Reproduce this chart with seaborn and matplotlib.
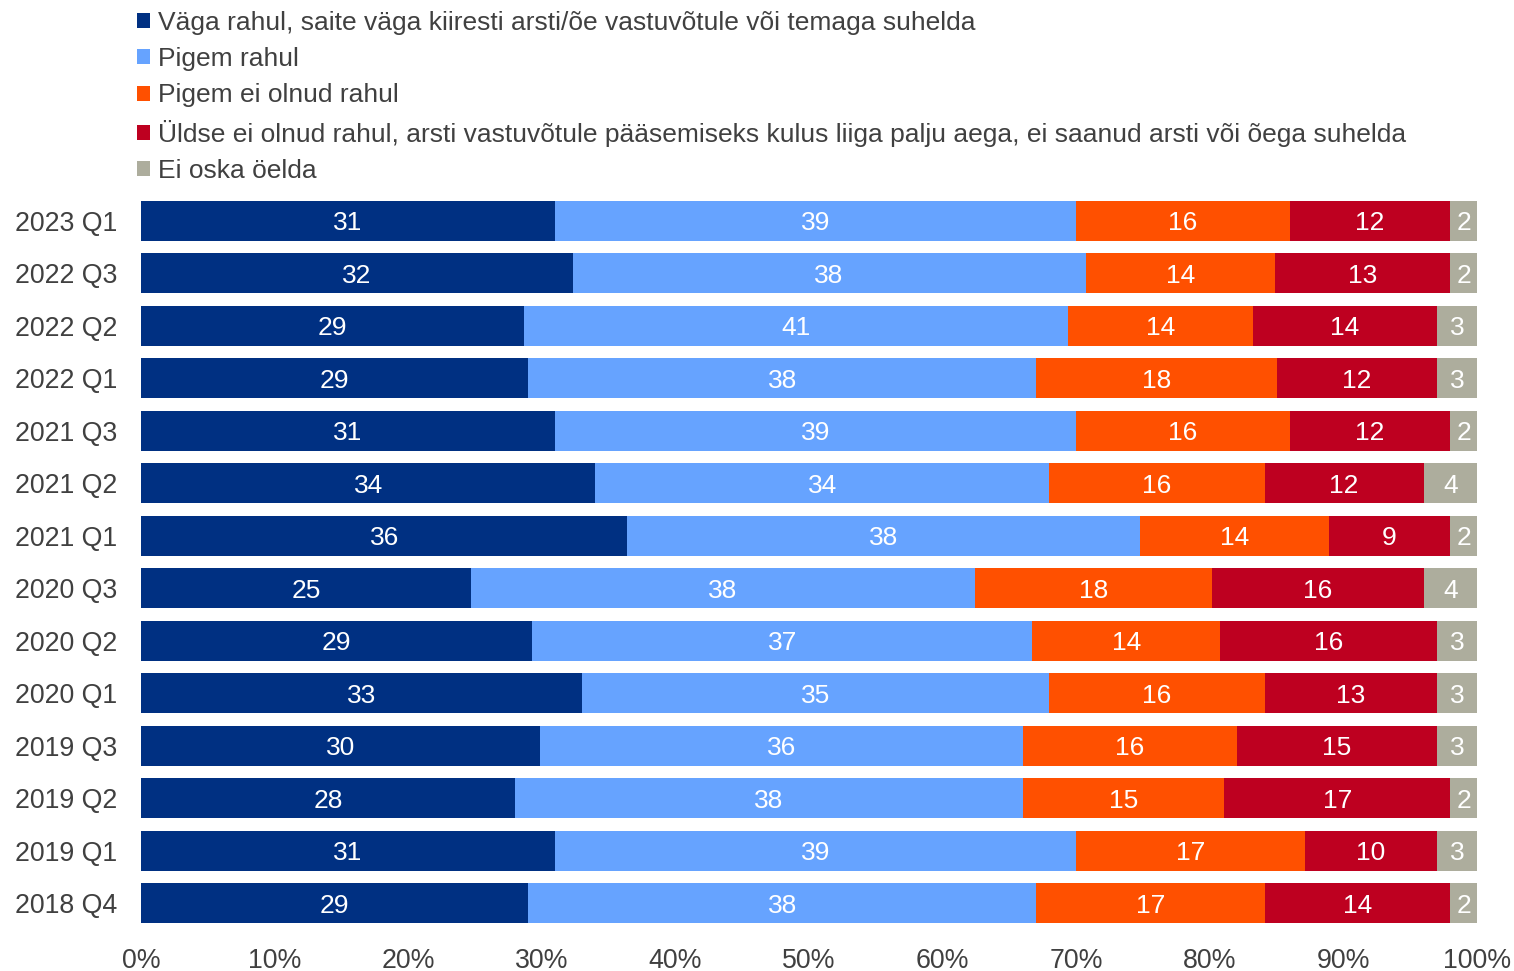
import matplotlib
matplotlib.use("Agg")
import matplotlib.pyplot as plt
import seaborn as sns
import pandas as pd
import numpy as np
from matplotlib.patches import Patch

periods = ["2023 Q1", "2022 Q3", "2022 Q2", "2022 Q1", "2021 Q3", "2021 Q2", "2021 Q1",
           "2020 Q3", "2020 Q2", "2020 Q1", "2019 Q3", "2019 Q2", "2019 Q1", "2018 Q4"]

series_names = [
    "Väga rahul, saite väga kiiresti arsti/õe vastuvõtule või temaga suhelda",
    "Pigem rahul",
    "Pigem ei olnud rahul",
    "Üldse ei olnud rahul, arsti vastuvõtule pääsemiseks kulus liiga palju aega, ei saanud arsti või õega suhelda",
    "Ei oska öelda",
]

very_satisfied = [31.0, 32.3, 28.7, 29.0, 31.0, 34.0, 36.4, 24.7, 29.3, 33.0, 29.9, 28.0, 31.0, 29.0]
rather_satisfied = [39.0, 38.4, 40.7, 38.0, 39.0, 34.0, 38.4, 37.7, 37.4, 35.0, 36.1, 38.0, 39.0, 38.0]
rather_not = [16.0, 14.2, 13.8, 18.0, 16.0, 16.1, 14.1, 17.8, 14.1, 16.1, 16.0, 15.1, 17.1, 17.1]
not_at_all = [12.0, 13.1, 13.8, 12.0, 12.0, 11.9, 9.1, 15.8, 16.2, 12.9, 15.0, 16.9, 9.9, 13.9]
dont_know = [2.0, 2.0, 3.0, 3.0, 2.0, 4.0, 2.0, 4.0, 3.0, 3.0, 3.0, 2.0, 3.0, 2.0]

colors = ["#003082", "#66A3FF", "#FF5000", "#BE0020", "#ADAD9D"]
text_color = "#404040"

sns.set_theme(style="white")
plt.rcParams["font.family"] = ["Liberation Sans", "DejaVu Sans"]

vals = np.array([very_satisfied, rather_satisfied, rather_not, not_at_all, dont_know])
vals = vals / vals.sum(axis=0) * 100
cum = np.cumsum(vals, axis=0)

fig = plt.figure(figsize=(15.14, 9.71), dpi=100)
ax = fig.add_axes([141 / 1514, 1 - 929.5 / 971, 1336 / 1514, (929.5 - 194.5) / 971])

# draw cumulative bars, largest first so earlier segments overlay
for i in range(len(series_names) - 1, -1, -1):
    df = pd.DataFrame({"period": periods, "value": cum[i]})
    sns.barplot(data=df, x="value", y="period", orient="h", color=colors[i],
                saturation=1, width=0.76, ax=ax, linewidth=0)

# labels
for i in range(len(series_names)):
    for j in range(len(periods)):
        left = cum[i, j] - vals[i, j]
        ax.text(left + vals[i, j] / 2, j, f"{round(vals[i, j]):d}", ha="center",
                va="center_baseline", color="white", fontsize=19)

ax.set_xlim(0, 100)
ax.set_ylim(len(periods) - 0.5, -0.5)
ax.set_xticks(np.arange(0, 101, 10))
ax.set_xticklabels([f"{t}%" for t in range(0, 101, 10)])
ax.set_xlabel("")
ax.set_ylabel("")
for s in ax.spines.values():
    s.set_visible(False)
ax.tick_params(axis="both", length=0, labelsize=19.3, labelcolor=text_color)
ax.tick_params(axis="x", pad=13)
ax.tick_params(axis="y", pad=17)
ax.grid(False)

handles = [Patch(facecolor=c, edgecolor="none") for c in colors]
fig.legend(handles, series_names, loc="upper left", bbox_to_anchor=(124 / 1514, 1 + 2 / 971),
           frameon=False, fontsize=19, handlelength=0.5, handleheight=0.5,
           handletextpad=0.27, labelspacing=0.46, borderpad=0, labelcolor=text_color)

fig.savefig("out.png", dpi=100)
